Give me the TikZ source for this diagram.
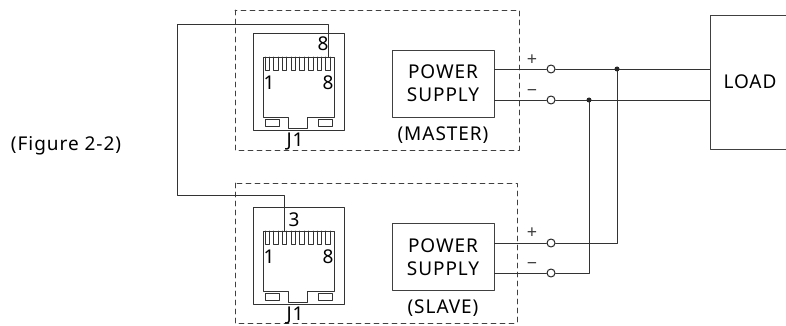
\documentclass[tikz,border=0pt]{standalone}
\usepackage{fontspec}
\setmainfont{Noto Sans}[LetterSpace=5]
\usetikzlibrary{positioning}

\tikzset{
  wire/.style={draw=black!80, line width=0.9pt},
  jack/.style={draw=black!80, line width=0.9pt},
  frame/.style={draw=black!75, line width=0.9pt, dash pattern=on 5pt off 4pt},
  lbl/.style={font=\fontsize{19}{21}\selectfont, inner sep=0pt},
  sign/.style={text=black!75, font=\fontsize{18}{20}\selectfont, inner sep=0pt},
  psbox/.style={draw=black!75, line width=0.9pt, minimum width=102pt, minimum height=67pt,
    inner sep=0pt, align=center, font=\fontsize{19}{23}\selectfont},
  loadbox/.style={draw=black!75, line width=0.9pt, minimum width=80pt, minimum height=134pt,
    inner sep=0pt, font=\fontsize{19}{21}\selectfont},
  term/.style={circle, draw=black!85, line width=1pt, fill=white, inner sep=0pt, minimum size=8pt},
}

\begin{document}
\begin{tikzpicture}[line cap=round,line join=round,x=1pt,y=-1pt]
\useasboundingbox (0,0) rectangle (786,326);
%
\node[lbl] (fig) at (66,146) {(Figure 2-2)};
%
% dashed frames
\draw[frame] (235,10) rectangle (519,150);
\draw[frame] (235,183) rectangle (517,323);
%
% RJ45 jacks
\foreach \yo/\p/\tx/\ty in {33/8/70/11,207/3/41/13} {
\begin{scope}[shift={(253,\yo)}]
\draw[jack] (0,0) rectangle (91,97);
\draw[jack] (10,84) -- (10,24) -- (81,24) -- (81,84) -- (54,84) -- (54,95) -- (35,95) -- (35,84) -- cycle;
\draw[jack] (12,86) rectangle (26,93);
\draw[jack] (65,86) rectangle (79,93);
\foreach \i in {1,...,8}
  \draw[jack] ({3.3+8.7*\i},24) -- ++(0,13) -- ++(4.5,0) -- ++(0,-13);
\coordinate (pin\p) at ({5.55+8.7*\p},24);
\node[lbl] (top\p) at (\tx,\ty) {\p};
\node[lbl] (one\p) at (16,50) {1};
\node[lbl] (eight\p) at (75,50) {8};
\node[lbl] (jname\p) at (42,109) {J1};
\end{scope}
}
%
% link cable
\draw[wire] (pin8) |- (177,24) -- (177,195) -| (pin3);
%
% supplies
\node[psbox] (psm) at (443,83.5) {POWER\\SUPPLY};
\node[lbl] (master) at (443,135) {(MASTER)};
\node[psbox] (pss) at (443,257) {POWER\\SUPPLY};
\node[lbl] (slave) at (443,308) {(SLAVE)};
%
% load, cut by the right margin
\begin{scope}
\clip (0,0) rectangle (786,326);
\node[loadbox] (load) at (750,82) {LOAD};
\end{scope}
%
% output terminals
\node[term] (tpm) at (551,69) {};
\node[term] (tmm) at (551,100) {};
\node[term] (tps) at (551,243) {};
\node[term] (tms) at (551,273) {};
\node[sign] (ppm) at (532,60) {+};
\node[sign] (mmm) at (532,93) {−};
\node[sign] (pps) at (532,233) {+};
\node[sign] (mms) at (532,266) {−};
\coordinate (jp) at (617,69);
\coordinate (jm) at (589,100);
%
\draw[wire] (psm.east |- tpm) -- (tpm);
\draw[wire] (psm.east |- tmm) -- (tmm);
\draw[wire] (pss.east |- tps) -- (tps);
\draw[wire] (pss.east |- tms) -- (tms);
\draw[wire] (tpm) -- (tpm -| load.west);
\draw[wire] (tmm) -- (tmm -| load.west);
\draw[wire] (tps) -| (jp);
\draw[wire] (tms) -| (jm);
\fill[black!85] (jp) circle (2.5pt);
\fill[black!85] (jm) circle (2.5pt);
\end{tikzpicture}
\end{document}
